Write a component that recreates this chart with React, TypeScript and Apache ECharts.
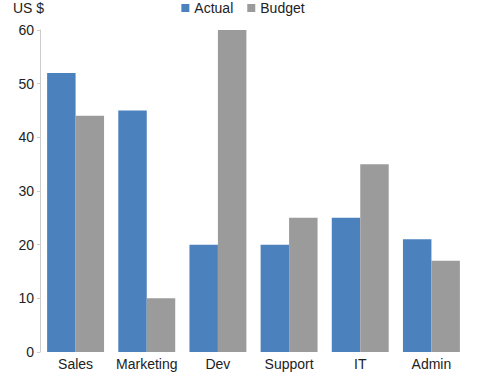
import React, { useEffect, useRef } from "react";
import * as echarts from "echarts";

const categories = ["Sales", "Marketing", "Dev", "Support", "IT", "Admin"];
const actual = [52, 45, 20, 20, 25, 21];
const budget = [44, 10, 60, 25, 35, 17];

export default function App() {
  const ref = useRef<HTMLDivElement>(null);
  useEffect(() => {
    const chart = echarts.init(ref.current!, null, { renderer: "svg" });
    const font = "Liberation Sans, Arial, sans-serif";
    chart.setOption({
      animation: false,
      textStyle: { fontFamily: font },
      legend: {
        data: ["Actual", "Budget"],
        top: 1,
        left: "center",
        padding: 0,
        itemWidth: 8,
        itemHeight: 8,
        itemGap: 14,
        icon: "rect",
        textStyle: { fontSize: 14, color: "#222", fontFamily: font },
      },
      graphic: [
        {
          type: "text",
          left: 13,
          top: 1,
          style: { text: "US $", fontSize: 14, fill: "#222", fontFamily: font },
        },
      ],
      grid: { left: 40, right: 19, top: 30, bottom: 26, containLabel: false },
      xAxis: {
        type: "category",
        data: categories,
        axisLine: { show: false },
        axisTick: { show: false },
        axisLabel: { interval: 0, fontSize: 14, color: "#222", fontFamily: font, margin: 5 },
      },
      yAxis: {
        type: "value",
        min: 0,
        max: 60,
        interval: 10,
        splitLine: { show: false },
        axisLine: { show: true, lineStyle: { color: "#ccc" } },
        axisTick: { show: true, length: 3, lineStyle: { color: "#ccc" } },
        axisLabel: { fontSize: 14, color: "#222", fontFamily: font, margin: 6 },
      },
      series: [
        {
          name: "Actual",
          type: "bar",
          data: actual,
          itemStyle: { color: "#4b81bd" },
          barGap: "0%",
          barCategoryGap: "20%",
        },
        {
          name: "Budget",
          type: "bar",
          data: budget,
          itemStyle: { color: "#9b9b9b" },
          barGap: "0%",
          barCategoryGap: "20%",
        },
      ],
    });
    return () => chart.dispose();
  }, []);
  return <div ref={ref} style={{ width: 486, height: 378, position: "absolute", left: 0, top: 0 }} />;
}
